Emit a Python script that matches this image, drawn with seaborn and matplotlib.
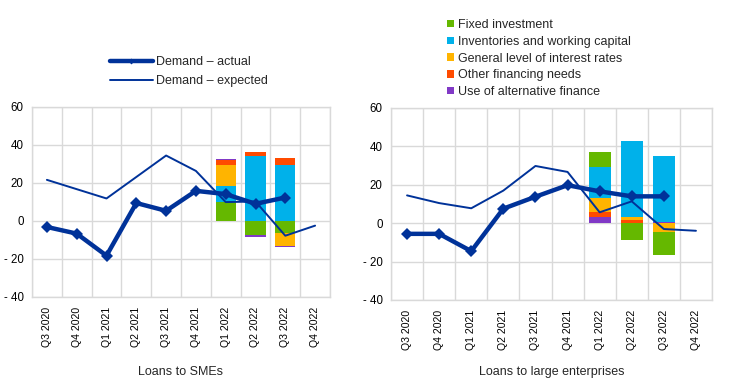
import numpy as np
import pandas as pd
import matplotlib
matplotlib.use("Agg")
import matplotlib.pyplot as plt
from matplotlib.lines import Line2D
from matplotlib.patches import Patch
import seaborn as sns

quarters = ["Q3 2020", "Q4 2020", "Q1 2021", "Q2 2021", "Q3 2021",
            "Q4 2021", "Q1 2022", "Q2 2022", "Q3 2022", "Q4 2022"]
bar_quarters = ["Q1 2022", "Q2 2022", "Q3 2022"]

sme_actual = [-3.3, -6.8, -18.4, 9.3, 5.2, 15.7, 14.0, 8.9, 12.2]
sme_expected = [21.5, 16.6, 11.7, 23.0, 34.3, 26.2, 9.8, 10.1, -7.9, -2.6]
sme_fixed = [10.1, -7.7, -6.5]
sme_inventories = [8.4, 34.3, 29.4]
sme_rates = [10.9, 0.0, -6.6]
sme_other = [2.3, 2.1, 3.8]
sme_alt = [0.8, -1.0, -0.5]

large_actual = [-5.6, -5.6, -14.6, 7.5, 13.7, 19.7, 16.5, 13.9, 13.9]
large_expected = [14.4, 10.4, 7.7, 16.9, 29.7, 26.6, 5.6, 11.3, -3.1, -4.0]
large_fixed = [7.5, -9.0, -11.8]
large_inventories = [16.2, 39.3, 34.4]
large_rates = [7.1, 1.6, -4.7]
large_other = [3.0, 1.7, 0.0]
large_alt = [3.0, 0.0, 0.4]

factor_names = ["Fixed investment", "Inventories and working capital",
                "General level of interest rates", "Other financing needs",
                "Use of alternative finance"]
factor_colors = ["#65B800", "#00B1EA", "#FFB400", "#FF4B00", "#8139C6"]
DARK = "#003299"
GRID = "#D9D9D9"

sns.set_theme(style="white")
plt.rcParams["font.family"] = ["Liberation Sans", "DejaVu Sans"]

fig = plt.figure(figsize=(7.44, 3.84), dpi=100)
ax1 = fig.add_axes([32/744, 1-296.7/384, 298/744, 190/384])
ax2 = fig.add_axes([391/744, 1-300/384, 321/744, 192.3/384])


def draw_panel(ax, actual, expected, factors, order, xlabel, label_y):
    pos = {q: i for i, q in enumerate(quarters)}
    bx = np.array([pos[q] for q in bar_quarters])
    pos_bottom = np.zeros(len(bar_quarters))
    neg_bottom = np.zeros(len(bar_quarters))
    for k in order:
        vals = np.array(factors[k], dtype=float)
        p = np.where(vals > 0, vals, 0)
        n = np.where(vals < 0, vals, 0)
        ax.bar(bx, p, bottom=pos_bottom, width=0.68, color=factor_colors[k],
               linewidth=0, zorder=2)
        ax.bar(bx, n, bottom=neg_bottom, width=0.68, color=factor_colors[k],
               linewidth=0, zorder=2)
        pos_bottom += p
        neg_bottom += n
    df_e = pd.DataFrame({"x": np.arange(len(expected)), "y": expected})
    sns.lineplot(data=df_e, x="x", y="y", ax=ax, color=DARK, linewidth=1.4,
                 zorder=3, legend=False)
    df_a = pd.DataFrame({"x": np.arange(len(actual)), "y": actual})
    sns.lineplot(data=df_a, x="x", y="y", ax=ax, color=DARK, linewidth=3.2,
                 marker="D", markersize=6.5, markeredgewidth=0,
                 zorder=4, legend=False)
    ax.set_xlim(-0.5, len(quarters) - 0.5)
    ax.set_ylim(-40, 60)
    ax.set_yticks([-40, -20, 0, 20, 40, 60])
    ax.set_yticklabels(["- 40", "- 20", "0", "20", "40", "60"], fontsize=8.3)
    ax.set_xticks(np.arange(len(quarters)))
    ax.set_xticklabels(quarters, rotation=90, fontsize=7.6)
    ax.set_xticks(np.arange(len(quarters) + 1) - 0.5, minor=True)
    ax.tick_params(axis="both", which="both", length=0, colors="black")
    ax.tick_params(axis="x", which="major", pad=7)
    ax.tick_params(axis="y", pad=6)
    ax.grid(False)
    ax.grid(True, axis="y", which="major", color=GRID, linewidth=1.0, zorder=0)
    ax.grid(True, axis="x", which="minor", color=GRID, linewidth=1.0, zorder=0)
    ax.set_axisbelow(True)
    for s in ax.spines.values():
        s.set_color(GRID)
        s.set_linewidth(1.0)
    ax.set_xlabel(xlabel, fontsize=9, va="center")
    ax.xaxis.set_label_coords(0.5, label_y)
    ax.set_ylabel("")


sme_factors = [sme_fixed, sme_inventories, sme_rates, sme_other, sme_alt]
large_factors = [large_fixed, large_inventories, large_rates, large_other, large_alt]
draw_panel(ax1, sme_actual, sme_expected, sme_factors, [0, 1, 2, 3, 4],
           "Loans to SMEs", -(372 - 296.7) / 190)
draw_panel(ax2, large_actual, large_expected, large_factors, [4, 3, 2, 1, 0],
           "Loans to large enterprises", -(372 - 300) / 192.3)

line_handles = [
    Line2D([], [], color=DARK, linewidth=3.2, marker="D", markersize=3,
           markeredgewidth=0),
    Line2D([], [], color=DARK, linewidth=1.4),
]
fig.legend(line_handles, ["Demand \u2013 actual", "Demand \u2013 expected"],
           loc="upper left", bbox_to_anchor=(110/744, 1-56/384),
           frameon=False, fontsize=9, handlelength=3.4, handletextpad=0.25,
           labelspacing=0.55, borderpad=0, borderaxespad=0)

bar_handles = [Patch(facecolor=c, edgecolor="none") for c in factor_colors]
fig.legend(bar_handles, factor_names, loc="upper left",
           bbox_to_anchor=(447/744, 1-19/384), frameon=False, fontsize=9,
           handlelength=0.55, handleheight=0.55, handletextpad=0.3,
           labelspacing=0.38, borderpad=0, borderaxespad=0)

fig.savefig("out.png", dpi=100)
